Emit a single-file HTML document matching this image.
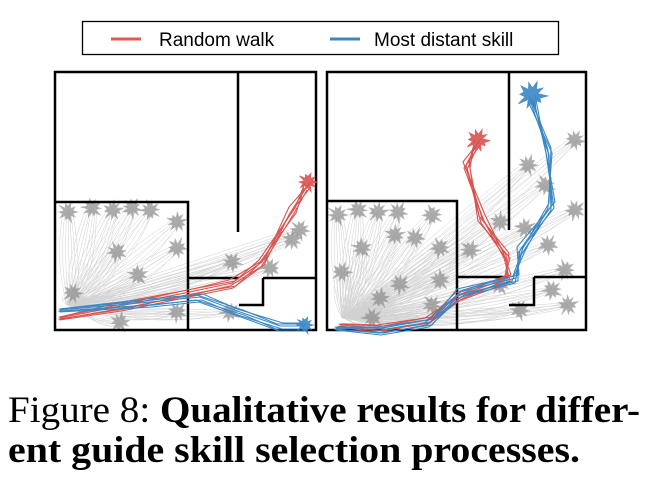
<!DOCTYPE html>
<html><head><meta charset="utf-8"><style>
html,body{margin:0;padding:0;background:#fff;}
svg{display:block;}
</style></head><body>
<svg id="fig" width="660" height="489" viewBox="0 0 660 489" xmlns="http://www.w3.org/2000/svg">
<g>
  <rect x="82.5" y="21.5" width="476" height="33" fill="#fff" stroke="#000" stroke-width="1.3"/>
  <g>
    <line x1="111" y1="39" x2="141" y2="39" stroke="#dd5b50" stroke-width="3"/>
    <text x="159" y="46" font-family="Liberation Sans, sans-serif" font-size="19">Random walk</text>
  </g>
  <g>
    <line x1="330" y1="39" x2="360" y2="39" stroke="#3a87c4" stroke-width="3"/>
    <text x="374" y="46" font-family="Liberation Sans, sans-serif" font-size="19">Most distant skill</text>
  </g>
</g>
<g id="panels"></g>
<g font-family="Liberation Serif, serif" font-size="37">
  <text x="8" y="422" textLength="632" lengthAdjust="spacingAndGlyphs">Figure 8: <tspan font-weight="bold">Qualitative results for differ-</tspan></text>
  <text x="8" y="462" textLength="572" lengthAdjust="spacingAndGlyphs" font-weight="bold">ent guide skill selection processes.</text>
</g>
</svg>
<script>
// ---- data ----
const leftClusters = [[68,212],[92,208],[113,210],[132,208],[150,210],[177,222],[177,248],[117,252],[138,275],[73,293],[177,312],[120,322],[232,262],[270,268],[292,240],[300,230],[230,312]];
const rightClusters = [[338,215],[358,210],[378,212],[398,212],[432,215],[395,235],[415,238],[440,248],[362,248],[342,272],[400,284],[380,298],[432,305],[372,318],[500,222],[520,310],[552,290],[568,305],[528,165],[545,185],[525,228],[548,245],[565,270],[500,285],[575,140],[575,210],[440,280],[470,250]];
const leftRed = [[60,318],[120,306],[190,292],[232,283],[262,262],[292,210],[308,185]];
const leftBlue = [[60,310],[150,302],[200,297],[240,312],[280,326],[305,326]];
const rightRed = [[340,325],[380,328],[428,320],[458,296],[508,278],[506,255],[482,218],[466,165],[478,142]];
const rightBlue = [[336,328],[380,330],[430,322],[460,292],[516,278],[520,250],[552,205],[548,150],[532,98]];
const redBlobs = [[308,182,9],[478,140,11]];
const blueBlobs = [[305,325,8],[532,95,14]];
const jitter = [[0,0],[3,-2],[-2,3],[4,3],[-3,-3],[1,5]];

const NS="http://www.w3.org/2000/svg";
const root=document.getElementById('panels');
const spike=[1,0.5,0.9,0.4,1.1,0.6,0.8,0.45,1,0.55,0.95,0.4,1.15,0.5,0.85,0.6,1,0.45,0.9,0.5];
function el(tag,attrs,parent){const e=document.createElementNS(NS,tag);for(const k in attrs)e.setAttribute(k,attrs[k]);(parent||root).appendChild(e);return e;}
function pts(arr,j){return arr.map((p,i)=>{const f=(i===0)?0.4:1;return (p[0]+j[0]*f*((i%2)?1:-1))+','+(p[1]+j[1]*f);}).join(' ');}
function star(cx,cy,r,rot){const s=[];for(let i=0;i<spike.length;i++){const a=i/spike.length*Math.PI*2+rot;const rr=r*spike[(i+rot*7|0)%spike.length];s.push((cx+rr*Math.cos(a)).toFixed(1)+','+(cy+rr*Math.sin(a)).toFixed(1));}return s.join(' ');}

function panel(name,x0,y0,w,h,walls,clusters,start,red,blue){
  const g=el('g',{});
  
  
  const fan=el('g',{stroke:'#999','stroke-width':0.5,fill:'none',opacity:0.45},g);
  
  
  clusters.forEach((c,i)=>{
    for(let k=0;k<7;k++){
      const mx=(start[0]+c[0])/2+(k-3)*5, my=(start[1]+c[1])/2+(k-3)*4+12;
      const p=el('path',{d:`M${start[0]+(k-3)},${start[1]} Q${mx},${my} ${c[0]+(k-3)*1.5},${c[1]+(k%3-1)*2}`},fan);
      
      
    }
  });
  clusters.forEach((c,i)=>{
    const b=el('polygon',{points:star(c[0],c[1],10,i*0.7),fill:'#8a8a8a',stroke:'#999','stroke-width':0.6,opacity:0.7},g);
    
    
  });
  const wg=el('g',{stroke:'#000','stroke-width':2.5,fill:'none'},g);
  
  
  walls.forEach(wl=>{const l=el('polyline',{points:wl.map(p=>p.join(',')).join(' ')},wg);
    
    });
  const fr=el('rect',{x:x0,y:y0,width:w,height:h,fill:'none',stroke:'#000','stroke-width':2.5},g);
  
  
  [[red,'#d9534f','random-walk-path'],[blue,'#3a87c4','most-distant-skill-path']].forEach(([path,col,nm])=>{
    jitter.forEach(j=>{
      const l=el('polyline',{points:pts(path,j),fill:'none',stroke:col,'stroke-width':1.1},g);
      
      
    });
  });
  return g;
}
function blobs(list,col,nm){
  list.forEach((b,i)=>{
    const p=el('polygon',{points:star(b[0],b[1],b[2],i),fill:col,stroke:col,'stroke-width':1,opacity:0.9});
    
    
  });
}
panel('left-maze-panel',55,72,261,258,
  [[[55,202],[188,202],[188,330]],[[188,278],[239,278]],[[238,72],[238,232]],[[263,278],[316,278]],[[263,278],[263,305],[239,305]]],
  leftClusters,[70,305],leftRed,leftBlue);
panel('right-maze-panel',327,72,259,258,
  [[[327,201],[457,201],[457,330]],[[457,277],[509,277]],[[509,72],[509,230]],[[534,277],[586,277]],[[534,277],[534,305],[509,305]]],
  rightClusters,[345,318],rightRed,rightBlue);
blobs(redBlobs,'#d9534f','random-walk-endpoint-cluster');
blobs(blueBlobs,'#3a87c4','most-distant-skill-endpoint-cluster');
</script>
</body></html>
